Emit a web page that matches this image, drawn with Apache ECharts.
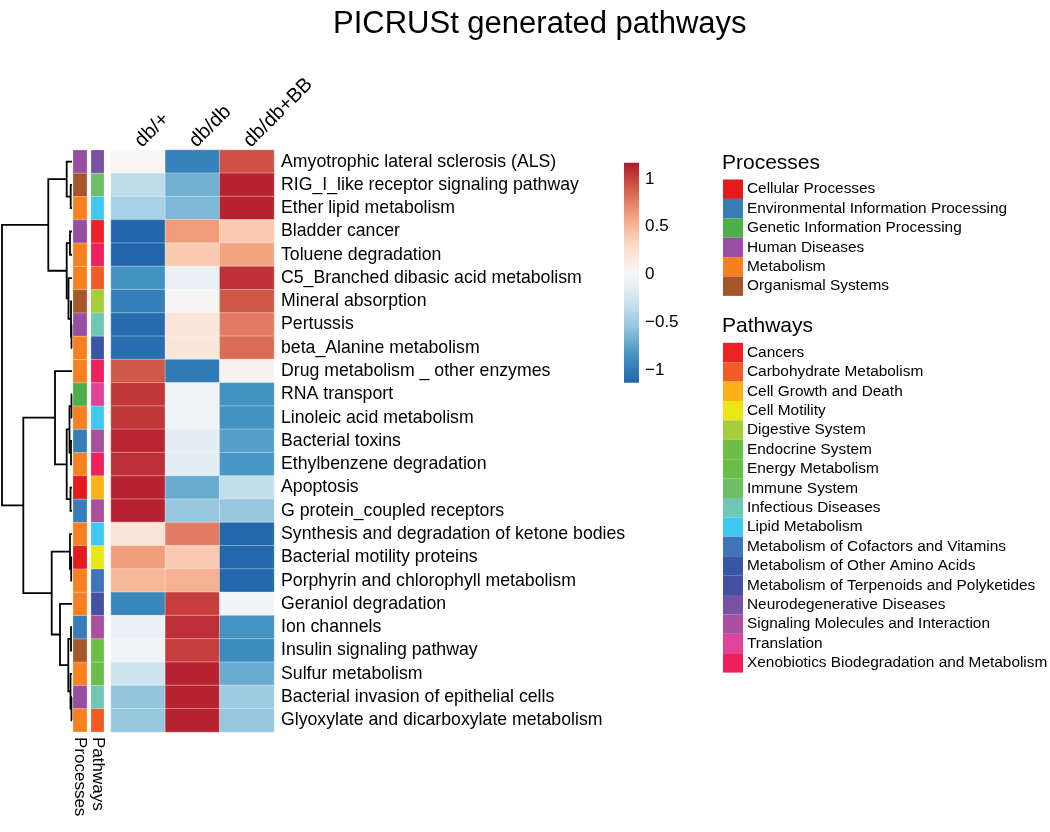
<!DOCTYPE html>
<html>
<head>
<meta charset="utf-8">
<script src="https://cdn.jsdelivr.net/npm/echarts@6/dist/echarts.min.js"></script>
<style>
html,body{margin:0;padding:0;background:#fff;}
#chart{width:1050px;height:832px;}
</style>
</head>
<body>
<div id="chart"></div>
<script>
// ---------------- DATA ----------------
const rowNames = [
  'Amyotrophic lateral sclerosis (ALS)',
  'RIG_I_like receptor signaling pathway',
  'Ether lipid metabolism',
  'Bladder cancer',
  'Toluene degradation',
  'C5_Branched dibasic acid metabolism',
  'Mineral absorption',
  'Pertussis',
  'beta_Alanine metabolism',
  'Drug metabolism _ other enzymes',
  'RNA transport',
  'Linoleic acid metabolism',
  'Bacterial toxins',
  'Ethylbenzene degradation',
  'Apoptosis',
  'G protein_coupled receptors',
  'Synthesis and degradation of ketone bodies',
  'Bacterial motility proteins',
  'Porphyrin and chlorophyll metabolism',
  'Geraniol degradation',
  'Ion channels',
  'Insulin signaling pathway',
  'Sulfur metabolism',
  'Bacterial invasion of epithelial cells',
  'Glyoxylate and dicarboxylate metabolism'
];
const colNames = ['db/+', 'db/db', 'db/db+BB'];

const valDbPlus = [0.03, -0.35, -0.45, -1.13, -1.13, -0.85, -0.97, -1.1, -1.07, 0.92,
  1.05, 1.05, 1.12, 1.08, 1.13, 1.13, 0.22, 0.63, 0.5, -0.92,
  -0.08, -0.05, -0.28, -0.55, -0.54];
const valDbDb = [-0.95, -0.68, -0.63, 0.63, 0.4, -0.08, 0.04, 0.2, 0.18, -1.0,
  -0.05, -0.05, -0.12, -0.12, -0.7, -0.53, 0.76, 0.4, 0.53, 1.02,
  1.08, 1.02, 1.13, 1.13, 1.13];
const valDbBB = [0.95, 1.13, 1.13, 0.4, 0.6, 1.07, 0.92, 0.77, 0.83, 0.06,
  -0.85, -0.85, -0.78, -0.82, -0.33, -0.53, -1.12, -1.12, -1.12, -0.02,
  -0.84, -0.9, -0.7, -0.5, -0.54];

const processOf = [
  'Human Diseases', 'Organismal Systems', 'Metabolism', 'Human Diseases', 'Metabolism',
  'Metabolism', 'Organismal Systems', 'Human Diseases', 'Metabolism', 'Metabolism',
  'Genetic Information Processing', 'Metabolism', 'Environmental Information Processing', 'Metabolism', 'Cellular Processes',
  'Environmental Information Processing', 'Metabolism', 'Cellular Processes', 'Metabolism', 'Metabolism',
  'Environmental Information Processing', 'Organismal Systems', 'Metabolism', 'Human Diseases', 'Metabolism'
];
const pathwayOf = [
  'Neurodegenerative Diseases', 'Immune System', 'Lipid Metabolism', 'Cancers', 'Xenobiotics Biodegradation and Metabolism',
  'Carbohydrate Metabolism', 'Digestive System', 'Infectious Diseases', 'Metabolism of Other Amino Acids', 'Xenobiotics Biodegradation and Metabolism',
  'Translation', 'Lipid Metabolism', 'Signaling Molecules and Interaction', 'Xenobiotics Biodegradation and Metabolism', 'Cell Growth and Death',
  'Signaling Molecules and Interaction', 'Lipid Metabolism', 'Cell Motility', 'Metabolism of Cofactors and Vitamins', 'Metabolism of Terpenoids and Polyketides',
  'Signaling Molecules and Interaction', 'Endocrine System', 'Energy Metabolism', 'Infectious Diseases', 'Carbohydrate Metabolism'
];

const processNames = ['Cellular Processes', 'Environmental Information Processing', 'Genetic Information Processing',
  'Human Diseases', 'Metabolism', 'Organismal Systems'];
const processColors = ['#E41A1C', '#377EB8', '#4DAF4A', '#984EA3', '#F7801E', '#A65628'];

const pathwayNames = ['Cancers', 'Carbohydrate Metabolism', 'Cell Growth and Death', 'Cell Motility', 'Digestive System',
  'Endocrine System', 'Energy Metabolism', 'Immune System', 'Infectious Diseases', 'Lipid Metabolism',
  'Metabolism of Cofactors and Vitamins', 'Metabolism of Other Amino Acids', 'Metabolism of Terpenoids and Polyketides',
  'Neurodegenerative Diseases', 'Signaling Molecules and Interaction', 'Translation', 'Xenobiotics Biodegradation and Metabolism'];
const pathwayColors = ['#EE2226', '#F15B26', '#FBB117', '#EBE717', '#A6CD3A', '#6DBE45', '#6ABD46', '#6DBE66',
  '#6FC8B4', '#40C8F0', '#3E74B9', '#3A55A5', '#4450A0', '#7752A2', '#A84F9F', '#E1439A', '#ED1F5C'];

// hclust-style merges: negative = leaf (1-based row), positive = earlier merge; third = height
const dendroMerge = [
  [-2, -3, 0.13], [-1, 1, 0.53], [-4, -5, 0.2], [-8, -9, 0.05], [-7, 4, 0.1],
  [-6, 5, 0.35], [3, 6, 0.53], [2, 7, 2.37], [-11, -12, 0.05], [-13, -14, 0.1],
  [9, 10, 0.25], [-15, -16, 0.15], [11, 12, 0.53], [-10, 13, 1.7], [-18, -19, 0.08],
  [-17, 15, 0.2], [-21, -22, 0.1], [-24, -25, 0.05], [-23, 18, 0.15], [17, 19, 0.37],
  [-20, 20, 1.2], [16, 21, 2.03], [14, 22, 4.87], [8, 23, 7.0]
];

const paletteRdBu = ['#2166AC', '#4393C3', '#92C5DE', '#D1E5F0', '#F7F7F7', '#FDDBC7', '#F4A582', '#D6604D', '#B2182B'];
const colorMin = -1.13, colorMax = 1.17;
const colorbarTicks = [-1, -0.5, 0, 0.5, 1];

// ---------------- BUILD ----------------
const heatData = [];
[valDbPlus, valDbDb, valDbBB].forEach((arr, c) => arr.forEach((v, r) => heatData.push([c, r, v])));

const nodes = [];
function nodeInfo(id) {
  if (id < 0) return { pos: -id - 1 + 0.5, h: 0 };
  return nodes[id - 1];
}
const dendroData = dendroMerge.map(m => {
  const L = nodeInfo(m[0]), R = nodeInfo(m[1]);
  const n = { pos: (L.pos + R.pos) / 2, h: m[2] };
  nodes.push(n);
  return [L.h, L.pos, R.h, R.pos, m[2]];
});

const FONT = 'Liberation Sans, Arial, Helvetica, sans-serif';
const hiddenAxis = { axisLine: { show: false }, axisTick: { show: false }, splitLine: { show: false } };

function annotSeries(idx, lookupNames, lookupColors, values) {
  return {
    type: 'custom', xAxisIndex: idx, yAxisIndex: idx, clip: false,
    data: values.map((v, r) => [0, r]),
    renderItem: function (params, api) {
      const c = api.coord([0, api.value(1)]);
      const s = api.size([1, 1]);
      const col = lookupColors[lookupNames.indexOf(values[params.dataIndex])];
      return {
        type: 'rect',
        shape: { x: c[0] - s[0] / 2, y: c[1] - s[1] / 2, width: s[0], height: s[1] },
        style: { fill: col, stroke: 'rgba(255,255,255,0.35)', lineWidth: 0.6 }
      };
    }
  };
}

// legends as graphic
const graphics = [];
function addLegend(title, names, colors, titleY, boxTop) {
  graphics.push({ type: 'text', left: 722, top: titleY, style: { text: title, font: '21px ' + FONT, fill: '#000' } });
  const h = 19.4;
  names.forEach((n, i) => {
    graphics.push({ type: 'rect', shape: { x: 723, y: boxTop + i * h, width: 20, height: h }, style: { fill: colors[i] } });
    graphics.push({ type: 'text', x: 747, y: boxTop + i * h + h / 2,
      style: { text: n, font: '15.4px ' + FONT, fill: '#000', textVerticalAlign: 'middle' } });
  });
}
addLegend('Processes', processNames, processColors, 153, 179.5);
addLegend('Pathways', pathwayNames, pathwayColors, 316, 342.8);

const annotLabel = { rotate: -90, fontSize: 17, color: '#000', margin: 5, verticalAlign: 'middle', padding: [8, 0, 0, 0] };

const chart = echarts.init(document.getElementById('chart'));
chart.setOption({
  backgroundColor: '#fff',
  animation: false,
  textStyle: { fontFamily: FONT },
  title: { text: 'PICRUSt generated pathways', left: 328, top: 4,
    textStyle: { fontSize: 31, fontWeight: 'normal', color: '#000', fontFamily: FONT } },
  grid: [
    { left: 2, top: 150, width: 70, height: 582 },
    { left: 73, top: 150, width: 14, height: 582 },
    { left: 91, top: 150, width: 13, height: 582 },
    { left: 111, top: 150, width: 163, height: 582 },
    { left: 624, top: 162.7, width: 15, height: 220 }
  ],
  xAxis: [
    Object.assign({ gridIndex: 0, type: 'value', min: 0, max: 7, inverse: true, axisLabel: { show: false } }, hiddenAxis),
    Object.assign({ gridIndex: 1, type: 'category', data: ['Processes'], position: 'bottom',
      axisLabel: annotLabel }, hiddenAxis),
    Object.assign({ gridIndex: 2, type: 'category', data: ['Pathways'], position: 'bottom',
      axisLabel: annotLabel }, hiddenAxis),
    Object.assign({ gridIndex: 3, type: 'category', data: colNames, position: 'top',
      axisLabel: { rotate: -45, fontSize: 20, color: '#000', margin: 6, interval: 0 } }, hiddenAxis),
    Object.assign({ gridIndex: 4, type: 'value', min: 0, max: 1, axisLabel: { show: false } }, hiddenAxis)
  ],
  yAxis: [
    Object.assign({ gridIndex: 0, type: 'value', min: 0, max: 25, inverse: true, axisLabel: { show: false } }, hiddenAxis),
    Object.assign({ gridIndex: 1, type: 'category', data: rowNames, inverse: true, axisLabel: { show: false } }, hiddenAxis),
    Object.assign({ gridIndex: 2, type: 'category', data: rowNames, inverse: true, axisLabel: { show: false } }, hiddenAxis),
    Object.assign({ gridIndex: 3, type: 'category', data: rowNames, inverse: true, position: 'right',
      axisLabel: { fontSize: 17.7, color: '#000', margin: 7, interval: 0 } }, hiddenAxis),
    Object.assign({ gridIndex: 4, type: 'value', min: colorMin, max: colorMax, position: 'right',
      axisLabel: { fontSize: 17, color: '#000', margin: 6, customValues: colorbarTicks,
        formatter: v => String(v).replace('-', '\u2212') } }, hiddenAxis)
  ],
  visualMap: {
    show: false, type: 'continuous', min: colorMin, max: colorMax, seriesIndex: 3, dimension: 2,
    inRange: { color: paletteRdBu }
  },
  graphic: graphics,
  series: [
    {
      type: 'custom', xAxisIndex: 0, yAxisIndex: 0, clip: false,
      data: dendroData,
      renderItem: function (params, api) {
        const hL = api.value(0), pL = api.value(1), hR = api.value(2), pR = api.value(3), h = api.value(4);
        const p1 = api.coord([hL, pL]), p2 = api.coord([h, pL]), p3 = api.coord([h, pR]), p4 = api.coord([hR, pR]);
        return {
          type: 'polyline',
          shape: { points: [p1, p2, p3, p4] },
          style: { stroke: '#000', lineWidth: 1.8, fill: null }
        };
      }
    },
    annotSeries(1, processNames, processColors, processOf),
    annotSeries(2, pathwayNames, pathwayColors, pathwayOf),
    {
      type: 'heatmap', xAxisIndex: 3, yAxisIndex: 3, data: heatData,
      itemStyle: { borderColor: 'rgba(255,255,255,0.45)', borderWidth: 0.8 },
      emphasis: { disabled: true }
    },
    {
      type: 'custom', xAxisIndex: 4, yAxisIndex: 4, clip: false,
      data: [[0, colorMin]],
      renderItem: function (params, api) {
        const a = api.coord([0, colorMax]), b = api.coord([1, colorMin]);
        const stops = paletteRdBu.map((c, i) => ({ offset: i / (paletteRdBu.length - 1), color: c }));
        return {
          type: 'rect',
          shape: { x: a[0], y: a[1], width: b[0] - a[0], height: b[1] - a[1] },
          style: { fill: new echarts.graphic.LinearGradient(0, 1, 0, 0, stops) }
        };
      }
    }
  ]
});
</script>
</body>
</html>
